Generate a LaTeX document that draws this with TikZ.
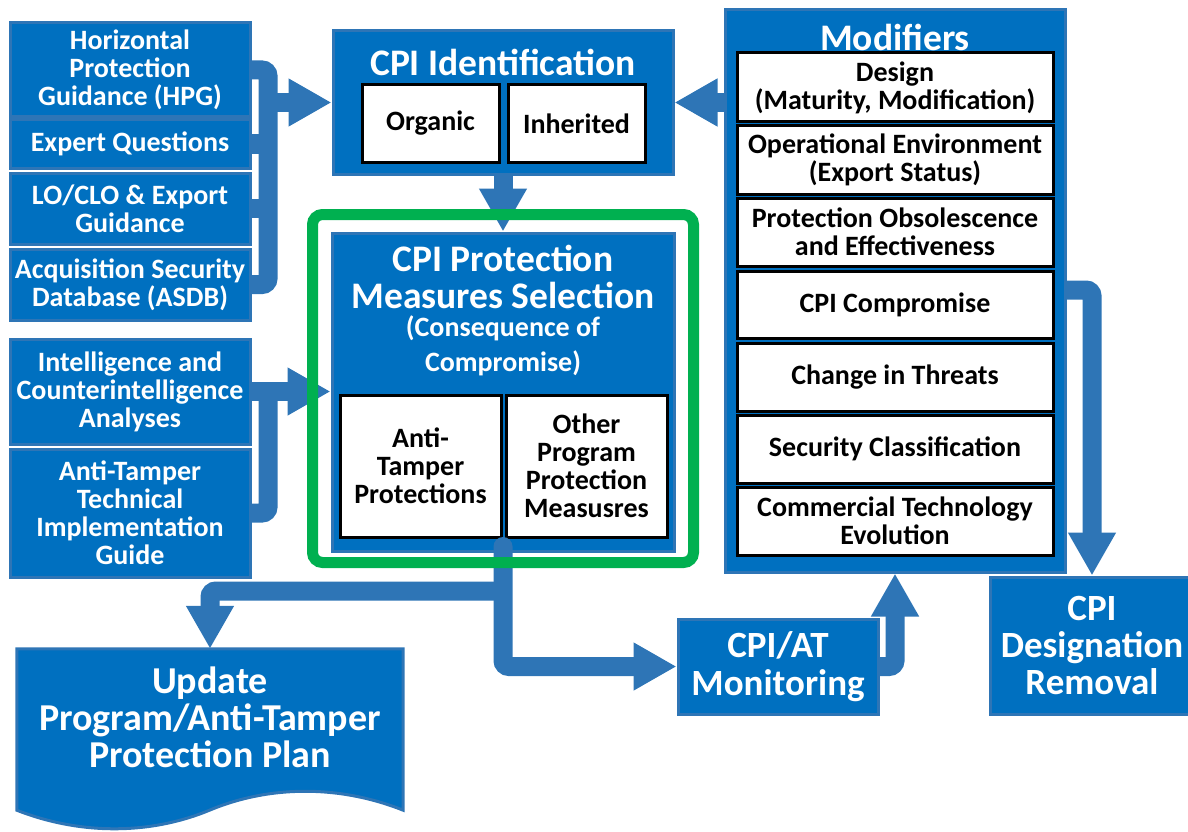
\documentclass[tikz,border=0pt]{standalone}
\usepackage{fontspec}
\setmainfont{Carlito}
\usetikzlibrary{arrows.meta,calc}
\definecolor{boxblue}{RGB}{0,112,192}
\definecolor{edgeblue}{RGB}{46,117,182}
\definecolor{connblue}{RGB}{46,117,182}
\definecolor{grn}{RGB}{0,176,80}
\newcommand\myfs[2]{\fontsize{#1}{#2}\selectfont}
\tikzset{
  bluebox/.style={draw=edgeblue, fill=boxblue, line width=3pt, text=white, align=center, inner sep=0pt, font=\bfseries\myfs{28}{28}},
  whitebox/.style={draw=black, fill=white, line width=3pt, text=black, align=center, inner sep=0pt, font=\bfseries\myfs{28}{28}},
  ttl/.style={text=white, align=center, inner sep=0pt, font=\bfseries\myfs{37.5}{37}},
  subttl/.style={text=white, align=center, inner sep=0pt, font=\bfseries\myfs{28}{35}},
  conn/.style={draw=connblue, line width=19pt, rounded corners=6pt},
  arr/.style={conn, -{Triangle[length=43pt,width=45pt]}},
  bx/.style n args={2}{minimum width=#1pt, minimum height=#2pt},
}
\begin{document}
\begin{tikzpicture}[x=1pt,y=-1pt]
\useasboundingbox (0,0) rectangle (1188,832);
% left column
\node[bluebox,bx={240}{94}]  (hpg)    at (130,70)    {Horizontal\\Protection\\Guidance (HPG)};
\node[bluebox,bx={240}{48}]  (expert) at (130,144)   {Expert Questions};
\node[bluebox,bx={240}{71}]  (lo)     at (130,208.5) {LO/CLO \& Export\\Guidance};
\node[bluebox,bx={240}{71}]  (asdb)   at (130,284.5) {Acquisition Security\\Database (ASDB)};
\node[bluebox,bx={240}{105}] (intel)  at (130,391.5) {Intelligence and\\Counterintelligence\\Analyses};
\node[bluebox,bx={240}{128}] (atg)    at (130,513)   {Anti-Tamper\\Technical\\Implementation\\Guide};
% CPI identification
\node[bluebox,bx={340}{143}] (cpiid) at (503,102.5) {};
\node[ttl] (cpiidt) at (503,62) {CPI Identification};
\node[whitebox,bx={137}{77}] (organic) at (430.5,123.5) {Organic};
\node[whitebox,bx={137}{77}] (inherited) at (576.5,123.5) {Inherited};
% CPI protection measures selection
\node[bluebox,bx={342}{318}] (cpips) at (503,392) {};
\node[ttl] (cpipst) at (503,277) {CPI Protection\\Measures Selection};
\node[subttl] (cpipss) at (503,345.5) {(Consequence of\\Compromise)};
\node[whitebox,bx={161}{142}] (atp) at (420.5,466) {Anti-\\Tamper\\Protections};
\node[whitebox,bx={161}{142}] (opp) at (586.5,466) {Other\\Program\\Protection\\Measusres};
% modifiers
\node[bluebox,bx={340}{562}] (mod) at (895,291) {};
\node[ttl] (modt) at (895,37) {Modifiers};
\node[whitebox,bx={316}{69}] (design) at (895,87.5) {Design\\(Maturity, Modification)};
\node[whitebox,bx={316}{68}] (openv)  at (895,160)  {Operational Environment\\(Export Status)};
\node[whitebox,bx={316}{68}] (pobs)   at (895,232)  {Protection Obsolescence\\and Effectiveness};
\node[whitebox,bx={316}{67}] (cpic)   at (895,304.5){CPI Compromise};
\node[whitebox,bx={316}{68}] (cit)    at (895,377)  {Change in Threats};
\node[whitebox,bx={316}{68}] (sec)    at (895,449)  {Security Classification};
\node[whitebox,bx={316}{68}] (cte)    at (895,521)  {Commercial Technology\\Evolution};
% monitoring, removal
\node[bluebox,bx={200}{95}, font=\bfseries\myfs{37}{38}] (mon) at (778,666.5) {CPI/AT\\Monitoring};
\node[bluebox,bx={204}{137}, font=\bfseries\myfs{37}{37}] (dr) at (1092,645.5) {CPI\\Designation\\Removal};
% update document
\node[minimum width=386pt, minimum height=161pt, inner sep=0pt] (upd) at (210,729.5) {};
\draw[draw=edgeblue, fill=boxblue, line width=3pt]
  (upd.north west) -- (upd.north east) -- (upd.south east)
  .. controls (340,785) and (270,785) .. (210,810)
  .. controls (150,835) and (80,835) .. (upd.south west) -- cycle;
\node[text=white, align=center, font=\bfseries\myfs{38}{37}] (updt) at (210,717) {Update\\Program/Anti-Tamper\\Protection Plan};
% connectors
\coordinate (bus1) at (268,0);
\coordinate (bus2) at (268,0);
\coordinate (split) at (503,591);
\coordinate (modout) at (1065,290);
\draw[conn] (hpg.east) -| (bus1 |- asdb.east) -- (asdb.east);
\draw[conn] (expert.east) -- (expert.east -| bus1);
\draw[conn] (lo.east) -- (lo.east -| bus1);
\draw[arr] (bus1 |- cpiid.west) -- (cpiid.west);
\draw[arr] (intel.east) -- (cpips.west |- intel.east);
\draw[conn] (atg.east) -| (bus2 |- intel.east);
\draw[arr] (mod.west |- cpiid.east) -- (cpiid.east);
\draw[arr] (cpiid.south) -- (cpips.north);
\draw[arr, line cap=round] ([yshift=6pt]cpips.south) |- (mon.west);
\draw[arr] (split) -| (upd.north);
\draw[arr] (mon.east) -| (mod.south);
\draw[arr] (modout) -| (dr.north);
% green frame
\draw[grn, line width=11pt, rounded corners=10pt] (312.5,214.5) rectangle (693.5,562.5);
\end{tikzpicture}
\end{document}
